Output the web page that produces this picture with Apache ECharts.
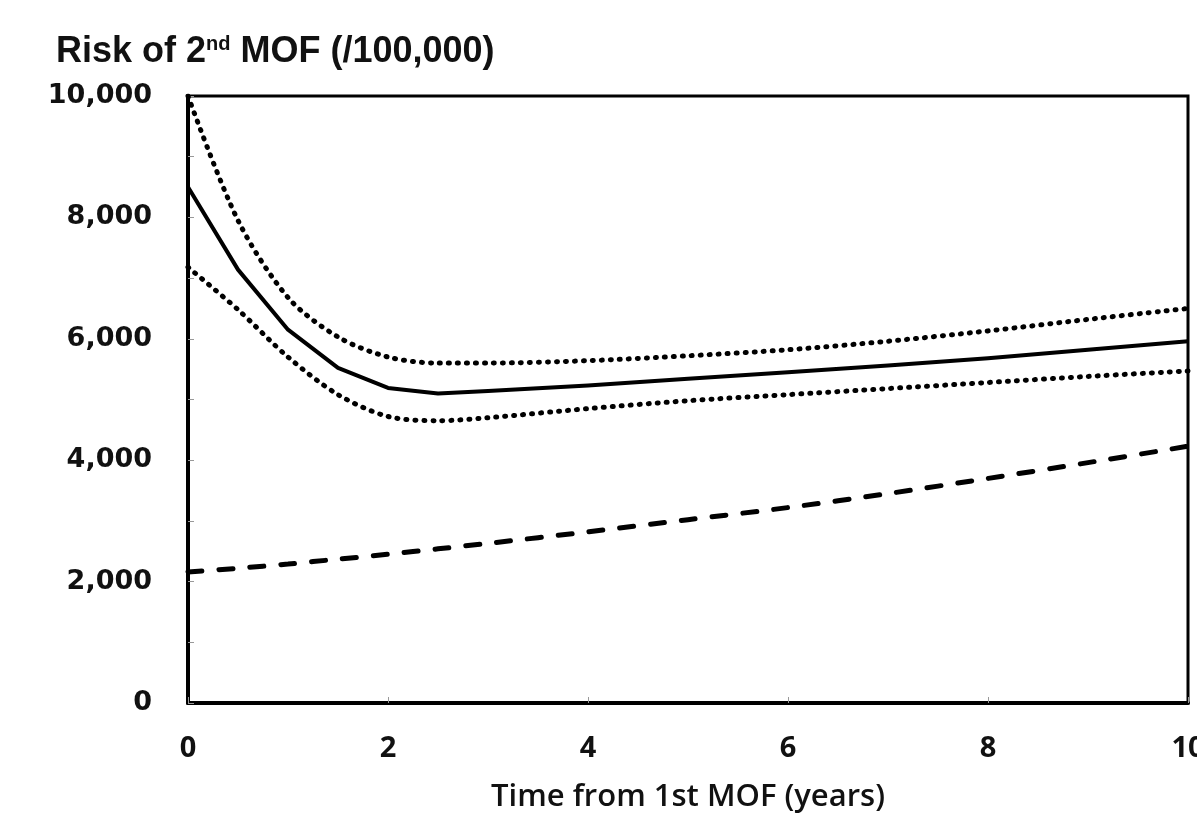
<!DOCTYPE html>
<html>
<head>
<meta charset="utf-8">
<script src="https://cdn.jsdelivr.net/npm/echarts@6/dist/echarts.min.js"></script>
<style>html,body{margin:0;padding:0;background:#fff}#c{width:1197px;height:815px}</style>
</head>
<body>
<div id="c"></div>
<script>
// Time from 1st MOF (years)
var years = [0, 0.5, 1, 1.5, 2, 2.5, 3, 4, 5, 6, 7, 8, 9, 10];
// Risk of 2nd MOF per 100,000
var riskEstimate = [8500, 7140, 6150, 5520, 5190, 5100, 5140, 5230, 5340, 5450, 5560, 5680, 5820, 5960];
var riskUpper    = [10000, 7950, 6680, 6030, 5700, 5600, 5600, 5640, 5720, 5820, 5960, 6130, 6320, 6500];
var riskLower    = [7180, 6480, 5700, 5080, 4720, 4650, 4700, 4850, 4980, 5080, 5180, 5280, 5380, 5470];
var riskReference = [2160, 2220, 2290, 2370, 2450, 2540, 2630, 2820, 3020, 3220, 3450, 3700, 3960, 4230];
var xTicks = [0, 2, 4, 6, 8, 10];
var yTicks = [0, 2000, 4000, 6000, 8000, 10000];

function pairs(ys) { return years.map(function (x, i) { return [x, ys[i]]; }); }
function fmt(v) { return v.toLocaleString('en-US'); }

var chart = echarts.init(document.getElementById('c'), null, { renderer: 'canvas' });
chart.setOption({
  animation: false,
  backgroundColor: '#fff',
  title: {
    text: '{a|Risk of 2}{s|nd}{a| MOF (/100,000)}',
    left: 51, top: 29,
    textStyle: {
      rich: {
        a: { fontFamily: 'Liberation Sans', fontWeight: 'bold', fontSize: 36, color: '#111' },
        s: { fontFamily: 'Liberation Sans', fontWeight: 'bold', fontSize: 20, color: '#111', verticalAlign: 'top', padding: [0, 0, 13, 0] }
      }
    }
  },
  grid: { left: 188, right: 9, top: 96, bottom: 112, outerBoundsMode: 'none', containLabel: false,
          show: true, borderColor: '#000', borderWidth: 3, backgroundColor: 'transparent' },
  xAxis: {
    type: 'value', min: xTicks[0], max: xTicks[xTicks.length - 1], interval: 2,
    name: 'Time from 1st MOF (years)', nameLocation: 'middle', nameGap: 79,
    nameTextStyle: { fontFamily: 'Open Sans', fontWeight: 600, fontSize: 31, color: '#111' },
    axisLine: { show: true, lineStyle: { color: '#000', width: 4 } },
    axisTick: { show: true, inside: true, length: 6, lineStyle: { color: '#999', width: 1 } },
    axisLabel: { margin: 31, fontFamily: 'Open Sans', fontWeight: 'bold', fontSize: 29, color: '#111' },
    splitLine: { show: false }
  },
  yAxis: {
    type: 'value', min: yTicks[0], max: yTicks[yTicks.length - 1], interval: 2000,
    axisLine: { show: true, lineStyle: { color: '#000', width: 4 } },
    axisTick: { show: true, inside: true, length: 6, lineStyle: { color: '#999', width: 1 } },
    minorTick: { show: true, splitNumber: 2, length: 6, lineStyle: { color: '#999', width: 1 } },
    axisLabel: { margin: 36, fontFamily: 'DejaVu Sans', fontWeight: 'bold', fontSize: 27, color: '#111', formatter: fmt },
    splitLine: { show: false }
  },
  series: [
    { type: 'line', data: pairs(riskReference), symbol: 'none', smooth: 0.3,
      lineStyle: { color: '#000', width: 5, type: [14, 17], cap: 'round' } },
    { type: 'line', data: pairs(riskUpper), symbol: 'none', smooth: 0.3,
      lineStyle: { color: '#000', width: 5, type: [1, 8], cap: 'round' } },
    { type: 'line', data: pairs(riskLower), symbol: 'none', smooth: 0.3,
      lineStyle: { color: '#000', width: 5, type: [1, 8], cap: 'round' } },
    { type: 'line', data: pairs(riskEstimate), symbol: 'none', smooth: false,
      lineStyle: { color: '#000', width: 4, join: 'round' } }
  ]
});
</script>
</body>
</html>
